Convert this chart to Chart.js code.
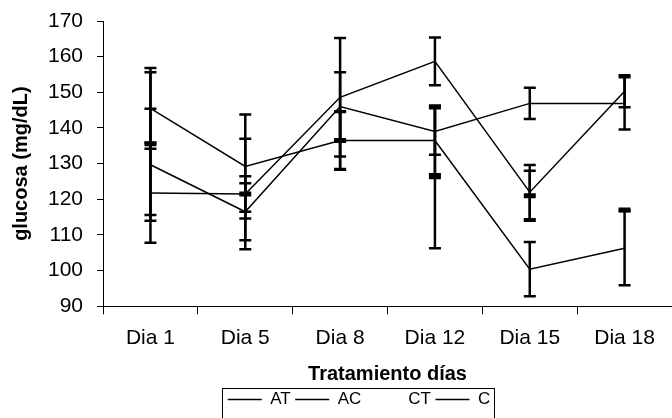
<!DOCTYPE html>
<html lang="es">
<head>
<meta charset="UTF-8" />
<title>Glucosa por tratamiento</title>
<style>
  html, body { margin: 0; padding: 0; background: #fff; overflow: hidden; }
  /* el gráfico original aparece recortado por la derecha */
  .chart-box { width: 683px; height: 418px; position: relative; }
</style>
</head>
<body>
<div class="chart-box">
  <canvas id="glucosaChart" role="img" aria-label="glucosa (mg/dL) por día de tratamiento"></canvas>
</div>

<script src="https://cdn.jsdelivr.net/npm/chart.js"></script>
<script>
  // datos
  const dias = ['Dia 1', 'Dia 5', 'Dia 8', 'Dia 12', 'Dia 15', 'Dia 18'];
  const yTicks = [90, 100, 110, 120, 130, 140, 150, 160, 170];

  const at = [145.5, 129.2, 136.5, 136.5, 100.4, 106.3];
  const atErr = [11.3, 14.6, 8.2, 9.5, 7.6, 10.4];

  const ac = [129.7, 116.5, 146.0, 139.0, 146.9, 146.9];
  const acErr = [15.7, 8.0, 9.6, 6.5, 4.4, 7.3];

  const ct = [135.6, 121.5, 136.5, 126.3, 121.0, 117.0];
  const ctErr = [20.0, 15.5, 8.0, 20.0, 7.0, 0];

  const c = [121.8, 121.5, 148.6, 158.7, 122.0, 150.3];
  const cErr = [14.0, 5.0, 16.6, 6.7, 7.6, 4.5];

  const FONT = "'Liberation Sans', Arial, sans-serif";
  const LEGEND_SHIFT = 12;

  // barras de error verticales con tapas
  const errorBars = {
    id: 'errorBars',
    afterDatasetsDraw(chart) {
      const ctx = chart.ctx;
      const y = chart.scales.y;
      ctx.save();
      ctx.strokeStyle = '#000';
      ctx.lineWidth = 2.5;
      chart.data.datasets.forEach((ds, i) => {
        const meta = chart.getDatasetMeta(i);
        ds.data.forEach((v, j) => {
          const e = ds.err[j];
          if (v == null || !e) return;
          const x = meta.data[j].x;
          const top = y.getPixelForValue(v + e);
          const bot = y.getPixelForValue(v - e);
          ctx.beginPath();
          ctx.moveTo(x, top); ctx.lineTo(x, bot);
          ctx.moveTo(x - 6, top); ctx.lineTo(x + 6, top);
          ctx.moveTo(x - 6, bot); ctx.lineTo(x + 6, bot);
          ctx.stroke();
        });
      });
      ctx.restore();
    }
  };

  // desplaza la leyenda un poco a la derecha y la enmarca
  const legendFrame = {
    id: 'legendFrame',
    afterUpdate(chart) {
      const lg = chart.legend;
      if (!lg) return;
      lg.left += LEGEND_SHIFT;
      lg.right += LEGEND_SHIFT;
      lg.legendHitBoxes.forEach(b => { b.left += LEGEND_SHIFT; });
    },
    afterDraw(chart) {
      const boxes = chart.legend && chart.legend.legendHitBoxes;
      if (!boxes || !boxes.length) return;
      const left = Math.min(...boxes.map(b => b.left)) - 6;
      const right = Math.max(...boxes.map(b => b.left + b.width)) + 3;
      const top = Math.min(...boxes.map(b => b.top)) - 3;
      const ctx = chart.ctx;
      ctx.save();
      ctx.strokeStyle = '#000';
      ctx.lineWidth = 1;
      ctx.strokeRect(Math.round(left) + 0.5, Math.round(top) + 0.5, Math.round(right - left), 60);
      ctx.restore();
    }
  };

  function serie(label, data, err) {
    return {
      label, data, err,
      borderColor: '#000',
      backgroundColor: '#000',
      borderWidth: 1.5,
      pointRadius: 0,
      tension: 0
    };
  }

  const ctSerie = Object.assign(serie('CT', ct, ctErr), {
    showLine: false,
    pointStyle: 'line',
    pointRadius: 6,
    pointBorderWidth: 5,
    pointHoverRadius: 6
  });

  const chart = new Chart(document.getElementById('glucosaChart'), {
    type: 'line',
    data: {
      labels: dias,
      datasets: [
        serie('AT', at, atErr),
        serie('AC', ac, acErr),
        ctSerie,
        serie('C', c, cErr)
      ]
    },
    options: {
      responsive: true,
      maintainAspectRatio: false,
      animation: false,
      layout: { padding: { left: 11, right: 0, top: 21, bottom: 0 } },
      scales: {
        x: {
          offset: true,
          border: { color: '#000', width: 1 },
          grid: { offset: true, drawOnChartArea: false, drawTicks: true, tickLength: 8, color: '#000' },
          ticks: { color: '#000', font: { family: FONT, size: 21 }, padding: 11, maxRotation: 0 },
          title: {
            display: true,
            text: 'Tratamiento días',
            color: '#000',
            font: { family: FONT, size: 20, weight: 'bold' },
            padding: { top: 1, bottom: 0 }
          }
        },
        y: {
          min: 90,
          max: 170,
          afterBuildTicks(scale) { scale.ticks = yTicks.map(v => ({ value: v })); },
          afterFit(scale) { scale.paddingTop = 0; scale.paddingBottom = 0; },
          border: { color: '#000', width: 1 },
          grid: { drawOnChartArea: false, drawTicks: true, tickLength: 6, color: '#000' },
          ticks: { color: '#000', font: { family: FONT, size: 21 }, padding: 14 },
          title: {
            display: true,
            text: 'glucosa (mg/dL)',
            color: '#000',
            font: { family: FONT, size: 20, weight: 'bold', lineHeight: 1 },
            padding: { top: 0, bottom: 3 }
          }
        }
      },
      plugins: {
        legend: {
          position: 'bottom',
          labels: {
            color: '#000',
            font: { family: FONT, size: 17 },
            padding: 4.5,
            usePointStyle: true,
            pointStyleWidth: 34,
            generateLabels(chart) {
              const items = Chart.defaults.plugins.legend.labels.generateLabels(chart);
              items.forEach(it => {
                it.pointStyle = 'line';
                it.lineWidth = 1.5;
                it.fillStyle = '#000';
                it.strokeStyle = it.text === 'CT' ? 'rgba(0,0,0,0)' : '#000';
              });
              return items;
            }
          }
        },
        tooltip: { enabled: false }
      }
    },
    plugins: [errorBars, legendFrame]
  });
</script>
</body>
</html>
